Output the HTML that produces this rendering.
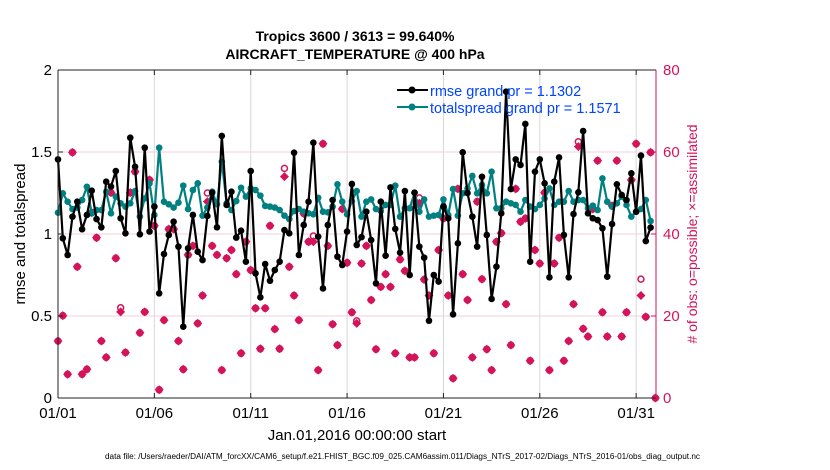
<!DOCTYPE html>
<html><head><meta charset="utf-8"><style>
html,body{margin:0;padding:0;background:#fff;}
svg{display:block;font-family:"Liberation Sans",sans-serif;}
</style></head><body>
<svg id="chart" width="830" height="470" viewBox="0 0 830 470">
<g id="grid"></g>
<g id="series"></g>
<g id="axes"></g>
<text x="355" y="41" text-anchor="middle" font-size="14" font-weight="bold">Tropics 3600 / 3613 = 99.640%</text>
<text x="355" y="59" text-anchor="middle" font-size="14" font-weight="bold">AIRCRAFT_TEMPERATURE @ 400 hPa</text>
<text x="357" y="440" text-anchor="middle" font-size="15">Jan.01,2016 00:00:00 start</text>
<text transform="translate(25,234) rotate(-90)" text-anchor="middle" font-size="15">rmse and totalspread</text>
<text transform="translate(697,234) rotate(-90)" text-anchor="middle" font-size="14" fill="#d4145a"># of obs: o=possible; ×=assimilated</text>
<text x="105" y="459" font-size="8" textLength="595" lengthAdjust="spacingAndGlyphs">data file: /Users/raeder/DAI/ATM_forcXX/CAM6_setup/f.e21.FHIST_BGC.f09_025.CAM6assim.011/Diags_NTrS_2017-02/Diags_NTrS_2016-01/obs_diag_output.nc</text>
<g>
<line x1="397" y1="90" x2="428" y2="90" stroke="#000" stroke-width="2"/>
<circle cx="412" cy="90" r="3.5" fill="#000"/>
<text x="430" y="96" font-size="14.5" fill="#0044ff">rmse grand pr = 1.1302</text>
<line x1="397" y1="107" x2="428" y2="107" stroke="#008080" stroke-width="2"/>
<circle cx="412" cy="107" r="3.5" fill="#008080"/>
<text x="430" y="113" font-size="14.5" fill="#0044ff">totalspread grand pr = 1.1571</text>
</g>
</svg>
<script>
const rmse=[1.455,0.974,0.872,1.106,1.197,1.029,1.116,1.264,1.091,1.041,1.319,1.289,1.384,1.096,1.004,1.587,1.410,0.998,1.526,1.015,1.167,0.638,0.878,0.994,1.075,0.923,0.435,0.913,1.116,0.892,0.841,1.11,
1.252,1.041,1.598,1.177,1.258,0.978,1.020,0.831,1.384,0.760,0.614,0.817,0.715,0.780,0.831,1.024,1.004,1.496,0.872,1.055,1.197,1.557,0.984,0.668,1.055,1.207,0.862,0.811,1.015,1.305,0.933,
0.981,1.136,0.963,0.699,1.197,0.868,1.284,1.031,0.886,1.262,0.750,1.252,0.923,0.856,0.471,0.750,0.710,1.167,1.096,0.510,0.943,1.498,1.25,1.106,0.923,1.349,0.994,0.604,0.801,1.126,1.868,
1.274,1.455,1.421,1.671,0.831,1.380,1.455,1.309,0.736,1.319,1.467,0.994,0.736,1.122,1.254,1.628,1.126,1.096,1.085,1.035,0.740,1.061,1.303,1.238,1.207,1.370,1.136,1.478,0.957,1.039];
const spread=[1.130,1.248,1.197,1.152,1.161,1.207,1.288,1.126,1.146,1.146,1.258,1.126,1.228,1.187,1.167,1.187,1.262,1.106,1.217,1.309,1.116,1.526,1.197,1.181,1.161,1.191,1.295,1.152,1.268,1.309,1.112,1.161,
1.258,1.181,1.441,1.187,1.146,1.201,1.282,1.228,1.278,1.268,1.234,1.171,1.167,1.161,1.146,1.112,1.091,1.140,1.152,1.136,1.126,1.120,1.221,1.136,1.132,1.167,1.303,1.197,1.120,1.201,1.262,
1.106,1.197,1.211,1.152,1.140,1.177,1.177,1.295,1.106,1.157,1.157,1.252,1.136,1.211,1.106,1.112,1.116,1.211,1.116,1.274,1.112,1.248,1.278,1.354,1.248,1.299,1.248,1.380,1.157,1.157,1.197,
1.187,1.177,1.136,1.207,1.167,1.152,1.177,1.217,1.278,1.177,1.197,1.197,1.262,1.197,1.207,1.207,1.157,1.173,1.146,1.339,1.197,1.167,1.187,1.228,1.177,1.106,1.136,1.152,1.207,1.079];
const assimilated=[13.9,20.1,5.8,59.9,32,5.8,7,45.2,39.1,13.9,9.9,50.1,34.1,21,11.1,50.1,55.2,15.9,21,53.2,42,2,19,41.2,41.2,13.9,7,34.9,37.1,18.2,25,47.9,
37.1,34.9,6.8,34.1,36.1,30.2,10.9,38.1,31.2,21.9,12,21.9,42,16.8,12,54,32,25,19,45,38.1,38.1,6.8,62,37.1,18,12.9,46.1,33,20.9,18.2,
32.8,37.1,23.9,11.9,27.1,30.2,27.1,10.9,33.8,31,9.9,9.9,47.5,28.9,25,10.9,36.1,43.8,25,4.8,51,30.2,23.9,9.9,47.9,29,11.9,6.8,38.1,40.2,22.9,
12.9,51,43,43.8,9.1,36.1,32.8,50.1,6.8,32.8,39.1,9.1,13.9,22.9,61.3,16.9,15,46.1,57.9,20.9,15,46.9,57.9,15,20.9,53.2,62,25,19.8,59.9,0];
const possible=[13.9,20.1,5.8,59.9,32,5.8,7,45.2,39.1,13.9,9.9,50.1,34.1,22,11.1,50.1,55.2,15.9,21,53.2,42,2,19,41.2,41.2,13.9,7,34.9,37.1,18.2,25,50,
37.1,34.9,6.8,34.1,36.1,30.2,10.9,38.1,31.2,21.9,12,21.9,42,16.8,12,56,32,25,19,45,38.1,39.5,6.8,62,37.1,18,12.9,46.1,33,20.9,18.8,
32.8,37.1,23.9,11.9,27.1,30.2,27.1,10.9,33.8,31,9.9,9.9,48.8,28.9,25,10.9,36.1,43.8,25,4.8,51,30.2,23.9,9.9,47.9,29,11.9,6.8,38.1,40.2,22.9,
12.9,51,43,43.8,9.1,36.1,32.8,50.1,6.8,32.8,39.1,9.1,13.9,22.9,62.5,16.9,15,46.1,57.9,20.9,15,46.9,57.9,15,20.9,53.2,62,29,19.8,59.9,0];
const xTickLabels=["01/01","01/06","01/11","01/16","01/21","01/26","01/31"];
const xTickDays=[0,5,10,15,20,25,30];
const yTicks=[0,0.5,1,1.5,2];
const yTickLabels=["0","0.5","1","1.5","2"];
const y2Ticks=[0,20,40,60,80];

const NS="http://www.w3.org/2000/svg";
const L=58,R=656,T=70,B=398;
const X=d=>L+(d/31.03)*(R-L);
const Y=v=>B-(v/2)*(B-T);
const Y2=v=>B-(v/80)*(B-T);
const dayOf=i=>i*0.25;
function mk(tag,attrs,parent){const e=document.createElementNS(NS,tag);for(const k in attrs)e.setAttribute(k,attrs[k]);parent.appendChild(e);return e;}
const grid=document.getElementById('grid'),series=document.getElementById('series'),axes=document.getElementById('axes');
mk('rect',{x:L,y:T,width:R-L,height:B-T,fill:'#fff'},grid);
xTickDays.forEach((d,i)=>{
  const g=mk('line',{x1:X(d),x2:X(d),y1:T,y2:B,stroke:'#d8d8d8','stroke-width':1},grid);
  
  
  mk('line',{x1:X(d),x2:X(d),y1:B,y2:B-5,stroke:'#222'},axes);
  mk('line',{x1:X(d),x2:X(d),y1:T,y2:T+5,stroke:'#222'},axes);
  const t=mk('text',{x:X(d),y:418,'text-anchor':'middle','font-size':15},axes);
  t.textContent=xTickLabels[i];
  
  
});
yTicks.forEach((v,i)=>{
  if(v>0&&v<2){const g=mk('line',{x1:L,x2:R,y1:Y(v),y2:Y(v),stroke:'#f0d0dc','stroke-width':1},grid);
  
  }
  mk('line',{x1:L,x2:L+5,y1:Y(v),y2:Y(v),stroke:'#222'},axes);
  const t=mk('text',{x:52,y:Y(v)+5,'text-anchor':'end','font-size':15},axes);
  t.textContent=yTickLabels[i];
  
  
});
y2Ticks.forEach(v=>{
  mk('line',{x1:R-5,x2:R,y1:Y2(v),y2:Y2(v),stroke:'#d4145a'},axes);
  const t=mk('text',{x:663,y:Y2(v)+5,'font-size':15,fill:'#d4145a'},axes);
  t.textContent=String(v);
  
  
});
mk('line',{x1:L,x2:R,y1:T,y2:T,stroke:'#222'},axes);
mk('line',{x1:L,x2:R,y1:B,y2:B,stroke:'#222'},axes);
mk('line',{x1:L,x2:L,y1:T,y2:B,stroke:'#222'},axes);
mk('line',{x1:R,x2:R,y1:T,y2:B,stroke:'#d4145a'},axes);

possible.forEach((v,i)=>{
  const c=mk('circle',{cx:X(dayOf(i)),cy:Y2(v),r:3,fill:'none',stroke:'#d4145a','stroke-width':1.5},series);
  
  
});
assimilated.forEach((v,i)=>{
  const x=X(dayOf(i)),y=Y2(v);
  const c=mk('path',{d:`M${x-4.5},${y}L${x},${y-4.5}L${x+4.5},${y}L${x},${y+4.5}Z`,fill:'#d4145a'},series);
  
  
});
function line(arr,color,name){
  const p=mk('polyline',{points:arr.map((v,i)=>X(dayOf(i))+','+Y(v)).join(' '),fill:'none',stroke:color,'stroke-width':2.2,'stroke-linejoin':'round'},series);
  
  
  arr.forEach((v,i)=>{
    const c=mk('circle',{cx:X(dayOf(i)),cy:Y(v),r:3.3,fill:color},series);
    
    
  });
}
line(spread,'#008080','totalspread');
line(rmse,'#000000','rmse');
</script>
</body></html>
